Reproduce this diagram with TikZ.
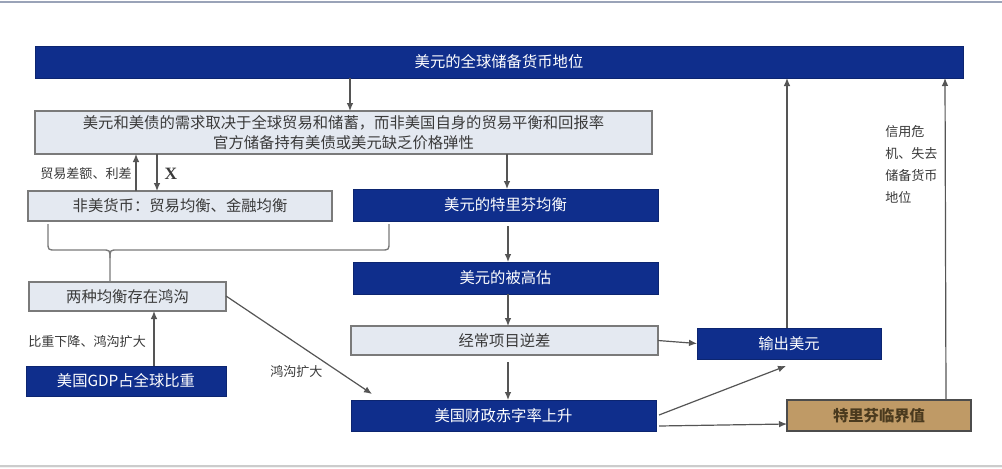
\documentclass[tikz,border=0pt]{standalone}
\usepackage{fontspec}
\setmainfont{Noto Sans CJK SC}
\newfontfamily\xserif{Liberation Serif}
\usetikzlibrary{arrows.meta}
\definecolor{dkblue}{HTML}{0F2E8C}
\definecolor{ltfill}{HTML}{E4E9F1}
\definecolor{ltdraw}{HTML}{7A7A7A}
\definecolor{tan}{HTML}{BF9A66}
\definecolor{tantext}{HTML}{4A3A1E}
\definecolor{txtgray}{HTML}{3A3A3A}
\definecolor{arr}{HTML}{555555}
\definecolor{frameline}{HTML}{9AA3B8}
\begin{document}
\begin{tikzpicture}[x=0.75pt,y=-0.75pt,
  box/.style={rectangle,inner sep=0pt,outer sep=0pt,anchor=north west,font=\fontsize{11.5}{15}\selectfont},
  dark/.style={box,fill=dkblue,draw=dkblue!80!black,line width=0.6pt,text=white},
  light/.style={box,fill=ltfill,draw=ltdraw,line width=1pt,text=txtgray},
  tanbox/.style={box,fill=tan,draw=black!70,line width=0.8pt,text=tantext,font=\fontsize{11.5}{15}\selectfont\bfseries},
  lbl/.style={font=\fontsize{9.8}{13}\selectfont,text=txtgray,inner sep=0pt},
  conn/.style={draw=arr,line width=0.9pt,-{Latex[length=6pt,width=5pt]}},
  brace/.style={draw=ltdraw,line width=1pt,rounded corners=5pt}]
\useasboundingbox (0,0) rectangle (1002,468);
\fill[white] (0,0) rectangle (1002,468);
\draw[draw=frameline,line width=1.5pt] (0,2) -- (1002,2);
\fill[gray!10] (0,466) rectangle (1002,468);
\draw[draw=gray!40,line width=1pt] (0,466) -- (1002,466);

% nodes
\node[dark,minimum width=928*0.75pt,minimum height=32*0.75pt] (top) at (35,46) {};
\node[text=white,font=\fontsize{11.5}{15}\selectfont] at (top.center) {美元的全球储备货币地位};

\node[light,minimum width=617*0.75pt,minimum height=43*0.75pt] (b1) at (35,111) {};
\node[text=txtgray,font=\fontsize{11.5}{15}\selectfont,align=center,inner sep=0pt] at (b1.center) {美元和美债的需求取决于全球贸易和储蓄，而非美国自身的贸易平衡和回报率\\官方储备持有美债或美元缺乏价格弹性};

\node[light,minimum width=304*0.75pt,minimum height=30*0.75pt] (nm) at (28,191) {};
\node[text=txtgray,font=\fontsize{11.5}{15}\selectfont] at (nm.center) {非美货币：贸易均衡、金融均衡};

\node[light,minimum width=197*0.75pt,minimum height=29*0.75pt] (gap) at (29,282) {};
\node[text=txtgray,font=\fontsize{11.5}{15}\selectfont] at (gap.center) {两种均衡存在鸿沟};

\node[dark,minimum width=200*0.75pt,minimum height=30*0.75pt] (gdp) at (26,366) {};
\node[text=white,font=\fontsize{11.5}{15}\selectfont] at (gdp.center) {美国GDP占全球比重};

\node[dark,minimum width=305*0.75pt,minimum height=32*0.75pt] (tr) at (353,189) {};
\node[text=white,font=\fontsize{11.5}{15}\selectfont] at (tr.center) {美元的特里芬均衡};

\node[dark,minimum width=305*0.75pt,minimum height=32*0.75pt] (ov) at (353,262) {};
\node[text=white,font=\fontsize{11.5}{15}\selectfont] at (ov.center) {美元的被高估};

\node[light,minimum width=307*0.75pt,minimum height=29*0.75pt] (ca) at (351,326) {};
\node[text=txtgray,font=\fontsize{11.5}{15}\selectfont] at (ca.center) {经常项目逆差};

\node[dark,minimum width=305*0.75pt,minimum height=31*0.75pt] (fd) at (351,400) {};
\node[text=white,font=\fontsize{11.5}{15}\selectfont] at (fd.center) {美国财政赤字率上升};

\node[dark,minimum width=184*0.75pt,minimum height=31*0.75pt] (ex) at (697,328) {};
\node[text=white,font=\fontsize{11.5}{15}\selectfont] at (ex.center) {输出美元};

\node[tanbox,minimum width=184*0.75pt,minimum height=31*0.75pt] (tc) at (787,400) {};
\node[text=tantext,font=\fontsize{11.5}{15}\selectfont\bfseries] at (tc.center) {特里芬临界值};

% labels
\node[lbl,anchor=east] (l1) at (132,174) {贸易差额、利差};
\node[font=\xserif\bfseries\fontsize{13}{14}\selectfont,text=txtgray,inner sep=0pt] (lx) at (171,174) {X};
\node[lbl,anchor=west] (l2) at (28,342) {比重下降、鸿沟扩大};
\node[lbl,anchor=west] (l3) at (270,372) {鸿沟扩大};
\node[lbl,anchor=north west,align=left,font=\fontsize{9.8}{16.5}\selectfont] (l4) at (885,125) {信用危\\机、失去\\储备货币\\地位};

% brace
\coordinate (brL) at (48,224);
\coordinate (brR) at (389,224);
\draw[draw=ltdraw,line width=1pt]
  (brL) -- (48,242) .. controls (48,250) .. (56,250) -- (102,250)
  .. controls (110,250) .. (110,258) -- (gap.north -| 110,0);
\draw[draw=ltdraw,line width=1pt]
  (brR) -- (389,242) .. controls (389,250) .. (381,250) -- (118,250)
  .. controls (110,250) .. (110,258);

% connectors
\draw[conn] (top.south -| 350,0) -- (b1.north -| 350,0);
\draw[conn] (nm.north -| 136,0) -- (b1.south -| 136,0);
\draw[conn] (b1.south -| 157,0) -- (nm.north -| 157,0);
\draw[conn] (gdp.north -| 154,0) -- (gap.south -| 154,0);
\draw[conn] (226,296) -- (372,394);
\draw[conn] (b1.south -| 507,0) -- (tr.north -| 507,0);
\draw[conn] (508,226) -- (ov.north -| 508,0);
\draw[conn] (ov.south -| 508,0) -- (ca.north -| 508,0);
\draw[conn] (508,362) -- (fd.north -| 508,0);
\draw[conn] (ca.east) -- (ex.west);
\draw[conn] (659,415) -- (786,366);
\draw[conn] (659,426) -- (tc.west |- 0,424);
\draw[conn] (ex.north -| 787,0) -- (top.south -| 787,0);
\draw[conn] (tc.north -| 946,0) -- (top.south -| 945,0);
\end{tikzpicture}
\end{document}
